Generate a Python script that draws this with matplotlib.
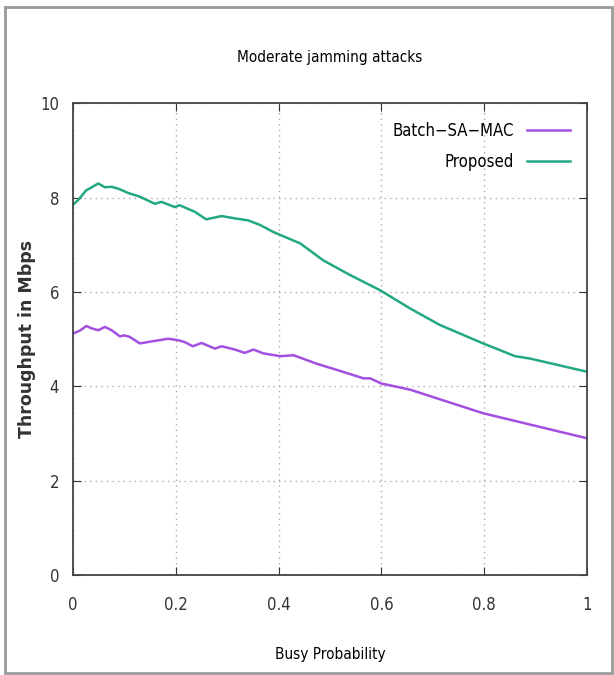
import matplotlib.pyplot as plt
from matplotlib.patches import Rectangle
import numpy as np

# values
busy_prop = np.array([0.0, 0.01, 0.025, 0.049, 0.062, 0.075, 0.088, 0.107, 0.13, 0.159, 0.172,
                      0.198, 0.207, 0.237, 0.259, 0.289, 0.315, 0.34, 0.364, 0.39, 0.442,
                      0.487, 0.539, 0.597, 0.656, 0.714, 0.798, 0.86, 0.889, 1.0])
proposed = np.array([7.85, 7.95, 8.15, 8.30, 8.22, 8.23, 8.19, 8.10, 8.02, 7.87, 7.91,
                     7.80, 7.84, 7.70, 7.54, 7.61, 7.56, 7.52, 7.42, 7.27, 7.03,
                     6.67, 6.36, 6.04, 5.65, 5.30, 4.91, 4.64, 4.59, 4.31])

busy_batch = np.array([0.0, 0.013, 0.026, 0.036, 0.049, 0.062, 0.075, 0.091, 0.10, 0.11,
                       0.13, 0.146, 0.185, 0.204, 0.217, 0.233, 0.25, 0.276, 0.289, 0.315,
                       0.334, 0.351, 0.37, 0.403, 0.429, 0.474, 0.519, 0.565, 0.578, 0.60,
                       0.656, 0.778, 0.798, 1.0])
batch = np.array([5.12, 5.18, 5.28, 5.23, 5.19, 5.26, 5.19, 5.06, 5.08, 5.05,
                  4.91, 4.94, 5.01, 4.98, 4.94, 4.85, 4.92, 4.80, 4.85, 4.78,
                  4.71, 4.78, 4.70, 4.64, 4.66, 4.48, 4.33, 4.17, 4.17, 4.06,
                  3.93, 3.50, 3.43, 2.90])

fig = plt.figure(figsize=(6.14, 6.75), dpi=100)
ax = fig.add_axes([0.119, 0.148, 0.837, 0.699])

ax.plot(busy_batch, batch, color='#a34fe0', lw=1.8, label='Batch\u2212SA\u2212MAC')
ax.plot(busy_prop, proposed, color='#23a884', lw=1.8, label='Proposed')

ax.set_xlim(0, 1)
ax.set_ylim(0, 10)
ax.set_xticks([0, 0.2, 0.4, 0.6, 0.8, 1])
ax.set_xticklabels(['0', '0.2', '0.4', '0.6', '0.8', '1'])
ax.set_yticks([0, 2, 4, 6, 8, 10])
ax.tick_params(direction='in', top=True, right=True, length=6, labelsize=12,
               pad=10, colors='#333333')
ax.tick_params(axis='x', pad=15)
for lbl in ax.get_xticklabels() + ax.get_yticklabels():
    lbl.set_fontstretch('condensed')
ax.grid(True, linestyle=(0, (1, 3)), color='#aaaaaa', lw=1)
for s in ax.spines.values():
    s.set_color('#444444')
    s.set_linewidth(1.3)

ax.set_title('Moderate jamming attacks', fontsize=11, stretch='condensed', pad=30)
ax.set_xlabel('Busy Probability', fontsize=11, stretch='condensed', labelpad=24)
ax.set_ylabel('Throughput in Mbps', fontsize=12.5, fontweight='bold', color='#333333', labelpad=3)

leg = ax.legend(loc='upper right', bbox_to_anchor=(0.99, 0.985), frameon=False,
                markerfirst=False, prop={'size': 12, 'stretch': 'condensed'},
                handlelength=2.6, borderaxespad=0.3, labelspacing=0.75)

fig.patches.append(Rectangle((0.008, 0.003), 0.988, 0.987, transform=fig.transFigure,
                             fill=False, edgecolor='#999999', lw=2))

fig.savefig('out.png', dpi=100)
